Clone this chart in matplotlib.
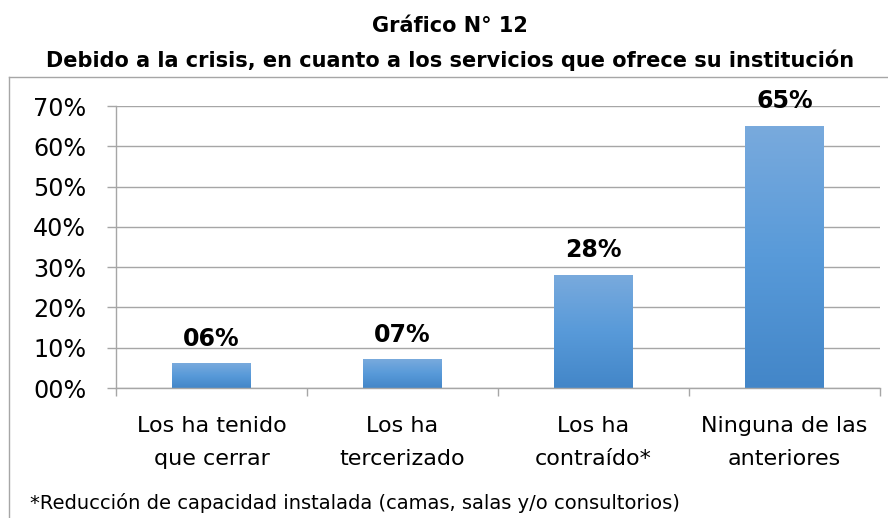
import numpy as np
import matplotlib.pyplot as plt
from matplotlib.colors import LinearSegmentedColormap
from matplotlib.lines import Line2D

plt.rcParams['font.family'] = ['DejaVu Sans']

title1 = "Gráfico N° 12"
title2 = "Debido a la crisis, en cuanto a los servicios que ofrece su institución"
categories = ["Los ha tenido\nque cerrar", "Los ha\ntercerizado",
              "Los ha\ncontraído*", "Ninguna de las\nanteriores"]
values = [6, 7, 28, 65]
yticks = [0, 10, 20, 30, 40, 50, 60, 70]
footnote = "*Reducción de capacidad instalada (camas, salas y/o consultorios)"

W, H = 888, 518
fig = plt.figure(figsize=(W / 100, H / 100), dpi=100)
ax = fig.add_axes([116 / W, 1 - 388 / H, (880 - 116) / W, (388 - 106) / H])

grey = '#A6A6A6'
cmap = LinearSegmentedColormap.from_list('bar', ['#4386C8', '#589AD9', '#79AADD'])

x = np.arange(len(values))
bars = ax.bar(x, values, width=0.41, color='none', zorder=2)
grad = np.linspace(0, 1, 256).reshape(-1, 1)
for b in bars:
    x0, w, h = b.get_x(), b.get_width(), b.get_height()
    ax.imshow(grad, extent=[x0, x0 + w, 0, h], origin='lower', aspect='auto',
              cmap=cmap, zorder=2)

for xi, v in zip(x, values):
    ax.annotate("%02d%%" % v, (xi, v), xytext=(0, 13), textcoords='offset points',
                ha='center', va='baseline', fontsize=17, fontweight='bold')

ax.set_xlim(-0.5, len(values) - 0.5)
ax.set_ylim(0, 70)
ax.set_yticks(yticks)
ax.set_yticklabels(["%02d%%" % t for t in yticks], fontsize=17.2)
ax.set_xticks(x)
ax.set_xticklabels(categories, fontsize=16, linespacing=1.85)
ax.set_xticks(np.arange(len(values) + 1) - 0.5, minor=True)
ax.tick_params(axis='x', which='major', length=0, pad=20)
ax.tick_params(axis='x', which='minor', length=6, color=grey, width=1)
ax.tick_params(axis='y', length=6.5, color=grey, width=1, pad=15)

ax.grid(axis='y', color=grey, linewidth=1, zorder=0)
ax.set_axisbelow(True)
for s in ['top', 'right']:
    ax.spines[s].set_visible(False)
for s in ['left', 'bottom']:
    ax.spines[s].set_color(grey)
    ax.spines[s].set_linewidth(1)

fig.text(450 / W, 1 - 32 / H, title1, ha='center', va='baseline',
         fontsize=15, fontweight='bold')
fig.text(450 / W, 1 - 67 / H, title2, ha='center', va='baseline',
         fontsize=15, fontweight='bold')
fig.text(30 / W, 1 - 509 / H, footnote, ha='left', va='baseline', fontsize=14)

# chart frame (only top and left edges visible)
fig.add_artist(Line2D([9 / W, 1], [1 - 77 / H, 1 - 77 / H], color=grey, lw=1))
fig.add_artist(Line2D([9 / W, 9 / W], [1 - 77 / H, 0], color=grey, lw=1))

fig.savefig('out.png', dpi=100)
